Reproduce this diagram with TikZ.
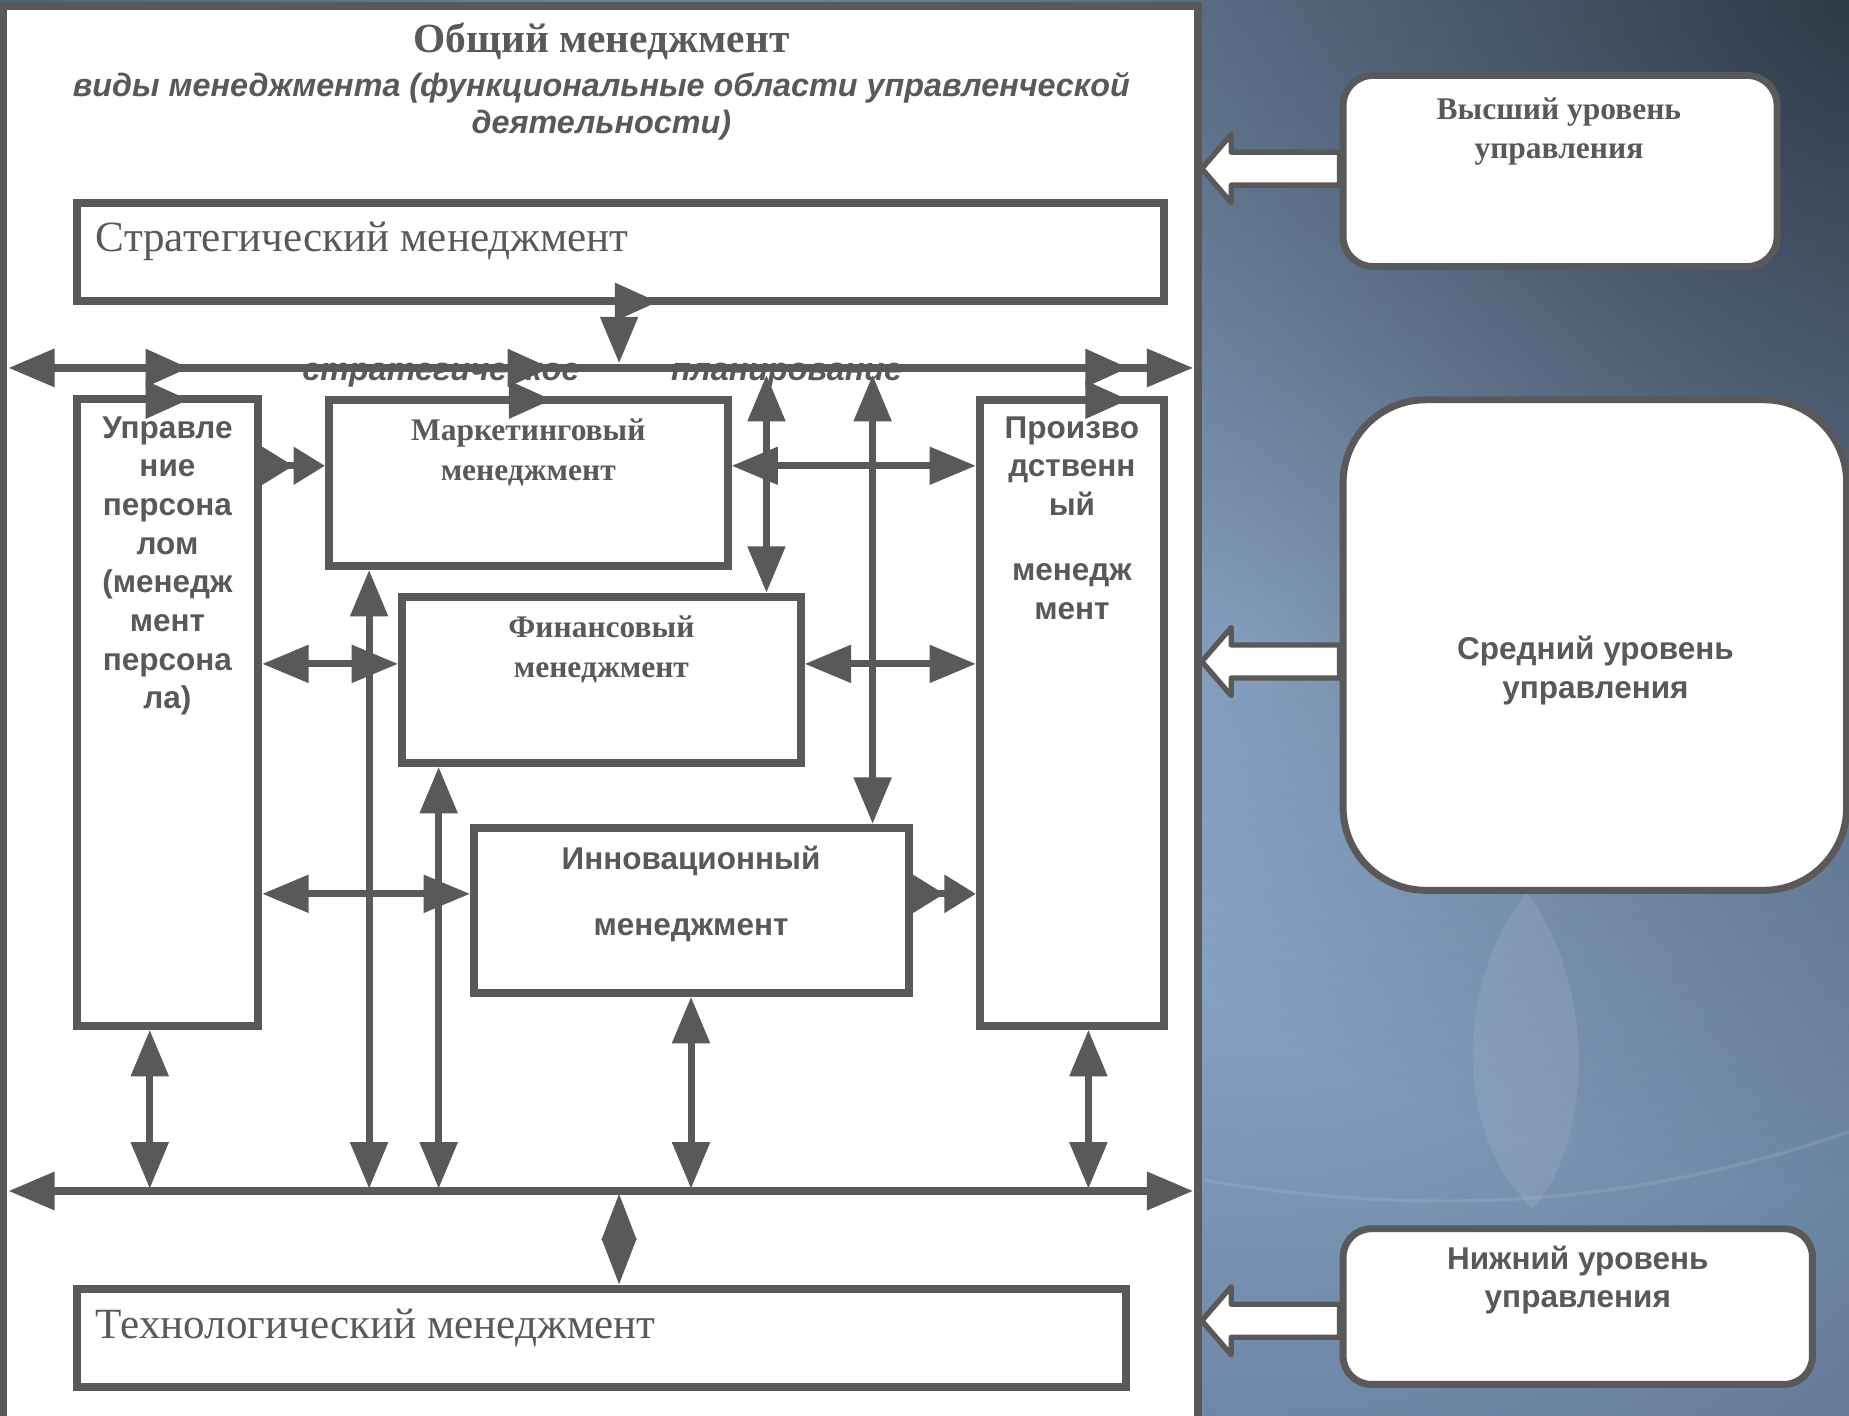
\documentclass[tikz,border=0pt]{standalone}
\usepackage{fontspec}
\setmainfont{Liberation Serif}
\setsansfont{Liberation Sans}
\usetikzlibrary{arrows.meta,fit,calc,fadings}

\definecolor{linegray}{HTML}{595959}
\definecolor{bgdark}{HTML}{3A4C64}
\definecolor{bglight}{HTML}{98B6DA}

\tikzfading[name=cornerfade, inner color=transparent!0, outer color=transparent!100]

\tikzset{
  box/.style={draw=linegray, fill=white, line width=4.8pt, inner sep=0pt},
  levelbox/.style={box, line width=4.2pt},
  link/.style={draw=linegray, line width=4.2pt},
  bus/.style={link, line width=5pt, <->},
  twotips/.style={-{Triangle[length=19pt,width=22pt] Triangle[length=19pt,width=22pt]}},
  straytip/.style={link, -{Triangle[length=26pt,width=22pt]}},
  levelarrow/.style={draw=linegray, fill=white, line width=3.2pt, line join=round},
  txt/.style={text=linegray, inner sep=0pt, align=center},
  sanstxt/.style={txt, font=\sffamily\bfseries\fontsize{19}{23.3}\selectfont},
  seriftxt/.style={txt, font=\bfseries\fontsize{19}{24}\selectfont},
  bigtxt/.style={txt, font=\fontsize{26}{30}\selectfont},
  italtxt/.style={txt, font=\sffamily\bfseries\itshape\fontsize{19.5}{22.5}\selectfont},
}

% white block arrow from a level box to the panel
\newcommand{\levelarrow}[2]{%
  \draw[levelarrow] (#1) -- ++(25,-29) -- ++(0,15) coordinate (la) -- (la -| #2.west)
    -- ++(0,28) coordinate (lb) -- ($(lb -| #1)+(25,0)$) -- ++(0,15) -- cycle;}

\begin{document}
\begin{tikzpicture}[x=0.025cm, y=-0.025cm, >={Triangle[length=28pt,width=22pt]}]
  \useasboundingbox (0,0) rectangle (1568,1200);

  % background
  \begin{scope}
    \clip (0,0) rectangle (1568,1200);
    \fill[bgdark] (0,0) rectangle (1568,1200);
    \fill[inner color=bglight, outer color=bgdark] (1060,540) circle (1500);
    \fill[black, opacity=0.55, path fading=cornerfade] (1568,0) circle (1000);
    \fill[white, opacity=0.09] (1295,757) .. controls (1235,830) and (1230,960) .. (1300,1025)
      .. controls (1355,960) and (1350,830) .. (1295,757);
    \draw[white, opacity=0.1, line width=2pt] (1016,1000) .. controls (1250,1040) and (1420,1010) .. (1568,960);
  \end{scope}

  % main panel
  \node[box, line width=4.5pt, fit={(3,5)(1016,1260)}] (panel) {};
  \node[seriftxt, font=\bfseries\fontsize{25}{29}\selectfont] (title) at (510,35) {Общий менеджмент};
  \node[italtxt] (subtitle) at (510,90) {виды менеджмента (функциональные области управленческой\\деятельности)};

  % levels of management
  \node[levelbox, rounded corners=18pt, fit={(1139,64)(1507,226)}] (high) {};
  \node[levelbox, rounded corners=50pt, fit={(1139,339)(1566,755)}] (mid) {};
  \node[levelbox, rounded corners=17pt, fit={(1139,1042)(1537,1174)}] (low) {};
  \coordinate (hiRow) at (0,143);
  \coordinate (midRow) at (0,561);
  \coordinate (lowRow) at (0,1120);
  \coordinate (hiTip) at (panel.east |- hiRow);
  \coordinate (midTip) at (panel.east |- midRow);
  \coordinate (lowTip) at (panel.east |- lowRow);
  \levelarrow{hiTip}{high}
  \levelarrow{midTip}{mid}
  \levelarrow{lowTip}{low}
  \node[seriftxt, font=\bfseries\fontsize{19}{23.5}\selectfont, anchor=north] (highT) at (1322,83) {Высший уровень\\управления};
  \node[sanstxt, anchor=north] (midT) at (1353,539) {Средний уровень\\управления};
  \node[sanstxt, anchor=north] (lowT) at (1338,1056) {Нижний уровень\\управления};

  % strategic and technological management
  \node[box, fit={(65,172)(987,255)}] (strat) {};
  \node[bigtxt, anchor=base west] (stratT) at (81,213) {Стратегический менеджмент};
  \node[box, fit={(65,1093)(955,1176)}] (tech) {};
  \node[bigtxt, anchor=base west] (techT) at (81,1135) {Технологический менеджмент};

  % text under the upper bus
  \node[italtxt, anchor=base] (planA) at (374,323) {стратегическое};
  \node[italtxt, anchor=base] (planB) at (667,323) {планирование};

  % functional areas
  \node[box, fit={(65,338)(219,870)}] (pers) {};
  \node[sanstxt, anchor=north] (persT) at (142,353) {Управле\\ние\\персона\\лом\\(менедж\\мент\\персона\\ла)};
  \node[box, fit={(279,339)(617,480)}] (mark) {};
  \node[seriftxt, anchor=north] (markT) at (448,355) {Маркетинговый\\менеджмент};
  \node[box, fit={(341,506)(679,647)}] (fin) {};
  \node[seriftxt, anchor=north] (finT) at (510,522) {Финансовый\\менеджмент};
  \node[box, fit={(402,702)(771,842)}] (innov) {};
  \node[sanstxt, font=\sffamily\bfseries\fontsize{19}{40}\selectfont, anchor=north] (innovT) at (586,717) {Инновационный\\менеджмент};
  \node[box, fit={(831,339)(987,870)}] (prod) {};
  \node[sanstxt, anchor=north] (prodT) at (909,353) {Произво\\дственн\\ый\\[16pt]менедж\\мент};

  % buses
  \coordinate (busTL) at (7,312);
  \coordinate (busTR) at (1012,312);
  \coordinate (busBL) at (7,1010);
  \coordinate (busBR) at (1012,1010);
  \draw[bus] (busTL) -- (busTR);
  \draw[bus] (busBL) -- (busBR);

  % from the upper bus
  \coordinate (stratDown) at (525,308);
  \coordinate (t650) at (650,318);
  \coordinate (t740) at (740,318);
  \draw[link, ->] (strat.south -| stratDown) -- (stratDown);
  \draw[link, <->] (t650) -- (fin.north -| t650);
  \draw[link, <->] (t740) -- (innov.north -| t740);

  % to the lower bus
  \coordinate (b127) at (127,1008);
  \coordinate (b313) at (313,1008);
  \coordinate (b372) at (372,1008);
  \coordinate (b586) at (586,1008);
  \coordinate (b923) at (923,1008);
  \coordinate (b525) at (525,1012);
  \draw[link, <->] (pers.south -| b127) -- (b127);
  \draw[link, <->] (mark.south -| b313) -- (b313);
  \draw[link, <->] (fin.south -| b372) -- (b372);
  \draw[link, <->] (innov.south -| b586) -- (b586);
  \draw[link, <->] (prod.south -| b923) -- (b923);
  \draw[link, <->, >={Triangle[length=28pt,width=20pt]}] (b525) -- (tech.north -| b525);

  % between the areas
  \coordinate (r1) at (0,395);
  \coordinate (r2) at (0,563);
  \coordinate (r3) at (0,758);
  \draw[link, twotips] (pers.east |- r1) -- (mark.west |- r1);
  \draw[link, <->] (mark.east |- r1) -- (prod.west |- r1);
  \draw[link, <->] (pers.east |- r2) -- (fin.west |- r2);
  \draw[link, <->] (fin.east |- r2) -- (prod.west |- r2);
  \draw[link, <->] (pers.east |- r3) -- (innov.west |- r3);
  \draw[link, twotips] (innov.east |- r3) -- (prod.west |- r3);

  % loose arrow tips
  \coordinate (s1) at (160,312);
  \coordinate (s2) at (160,339);
  \coordinate (s3) at (467,312);
  \coordinate (s4) at (468,339);
  \coordinate (s5) at (957,312);
  \coordinate (s6) at (957,339);
  \coordinate (s7) at (558,256);
  \foreach \s in {s1,s2,s3,s4,s5,s6,s7}
    \draw[straytip] ([xshift=-1pt]\s) -- (\s);
\end{tikzpicture}
\end{document}
